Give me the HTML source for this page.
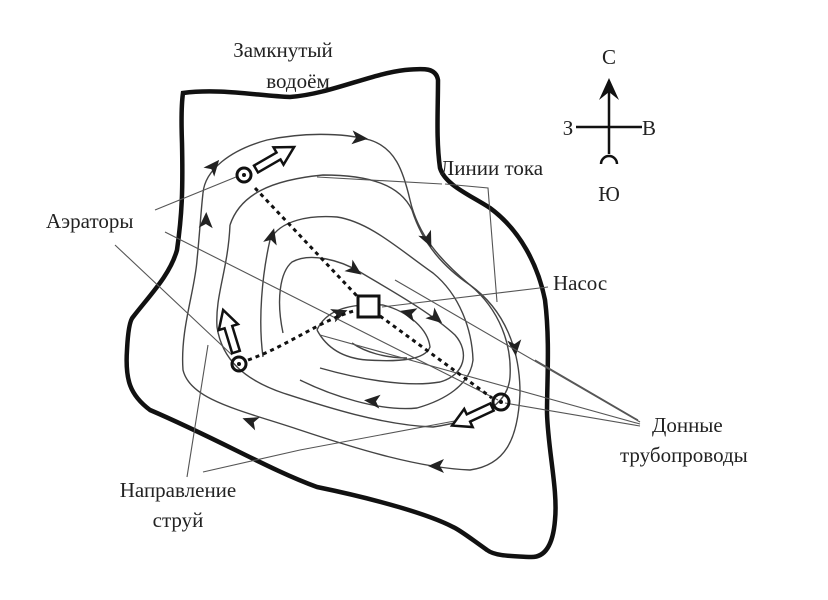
<!DOCTYPE html>
<html><head><meta charset="utf-8"><style>
html,body{margin:0;padding:0;background:#fff;}
svg{display:block;}
text{font-family:"Liberation Serif",serif;font-size:21px;fill:#222;}
</style></head><body>
<svg width="828" height="600" viewBox="0 0 828 600" xmlns="http://www.w3.org/2000/svg">
<path d="M183,93 C220,88 260,96 290,97 C330,94 370,74 405,70 C425,68 436,68 438,80 C438,110 436,140 440,168 C445,185 470,195 490,208 C520,230 538,265 545,300 C550,340 547,380 547,413 C548,450 558,490 555,520 C553,545 545,558 530,557 C510,556 495,556 487,550 C470,538 460,530 453,527 C430,515 380,500 317,487 C270,470 220,440 150,410 C130,395 125,380 127,350 C128,330 130,320 133,317 C150,295 170,275 177,250 C182,215 183,190 182,143 C181,115 182,100 183,93 Z" fill="none" stroke="#111" stroke-width="4.5"/>
<g fill="none" stroke="#444" stroke-width="1.4">
<path d="M203,193 C205,170 230,150 267,140 C300,133 340,132 370,140 C395,148 403,170 410,200 C418,235 440,260 470,285 C505,310 520,350 520,393 C518,440 505,465 470,470 C420,468 360,450 300,430 C240,410 190,400 183,370 C180,330 195,290 197,260 C200,230 201,210 203,193"/>
<path d="M230,225 C240,195 270,180 323,175 C370,175 400,185 412,210 C423,245 445,268 470,285 C500,310 512,345 510,377 C508,405 480,420 433,427 C380,425 320,405 283,393 C245,380 222,360 217,327 C215,295 228,270 230,225"/>
<path d="M263,357 C258,320 262,275 270,240 C280,220 310,215 337,217 C370,222 400,250 433,273 C460,295 472,330 473,360 C470,385 445,400 417,408 C380,412 330,395 300,380"/>
<path d="M283,333 C276,300 280,272 292,262 C310,252 340,260 360,272 C390,290 430,312 455,335 C470,352 465,375 440,382 C405,388 355,378 320,368"/>
<path d="M317,330 C325,312 345,303 383,305 C410,312 428,330 430,347 C425,360 400,362 367,360 C340,358 325,345 317,330"/>
<path d="M352,343 C365,352 385,358 407,358"/>
</g>
<g fill="#222">
<g transform="translate(214,166) rotate(-50)"><path d="M8,0 L-8,-7 L-4,0 L-8,7 Z"/></g>
<g transform="translate(360,138) rotate(5)"><path d="M8,0 L-8,-7 L-4,0 L-8,7 Z"/></g>
<g transform="translate(428,240) rotate(65)"><path d="M8,0 L-8,-7 L-4,0 L-8,7 Z"/></g>
<g transform="translate(206,220) rotate(-88)"><path d="M8,0 L-8,-7 L-4,0 L-8,7 Z"/></g>
<g transform="translate(272,236) rotate(-75)"><path d="M8,0 L-8,-7 L-4,0 L-8,7 Z"/></g>
<g transform="translate(355,270) rotate(35)"><path d="M8,0 L-8,-7 L-4,0 L-8,7 Z"/></g>
<g transform="translate(340,313) rotate(-20)"><path d="M8,0 L-8,-7 L-4,0 L-8,7 Z"/></g>
<g transform="translate(408,313) rotate(195)"><path d="M8,0 L-8,-7 L-4,0 L-8,7 Z"/></g>
<g transform="translate(436,318) rotate(40)"><path d="M8,0 L-8,-7 L-4,0 L-8,7 Z"/></g>
<g transform="translate(515,348) rotate(85)"><path d="M8,0 L-8,-7 L-4,0 L-8,7 Z"/></g>
<g transform="translate(372,401) rotate(185)"><path d="M8,0 L-8,-7 L-4,0 L-8,7 Z"/></g>
<g transform="translate(250,421) rotate(200)"><path d="M8,0 L-8,-7 L-4,0 L-8,7 Z"/></g>
<g transform="translate(436,466) rotate(180)"><path d="M8,0 L-8,-7 L-4,0 L-8,7 Z"/></g>
</g>
<g fill="none" stroke="#555" stroke-width="1.1">
<path d="M155,210 L236,177"/>
<path d="M165,232 L498,400"/>
<path d="M115,245 L232,355"/>
<path d="M442,184 L317,177"/>
<path d="M445,184 L488,188 L497,302"/>
<path d="M548,287 L382,307"/>
<path d="M640,422 L395,280"/>
<path d="M640,424 L320,335"/>
<path d="M640,426 L505,403"/>
<path d="M638,420 L535,360"/>
<path d="M187,477 L208,345"/>
<path d="M203,472 L300,450 L460,420"/>
</g>
<g fill="none" stroke="#111" stroke-width="3" stroke-dasharray="4,4">
<path d="M255,188 L357,296"/>
<path d="M380,316 L492,398"/>
<path d="M248,360 C290,345 320,320 357,310"/>
</g>
<rect x="358" y="296" width="21" height="21" fill="#fff" stroke="#111" stroke-width="3"/>
<g fill="none" stroke="#111" stroke-width="3">
<circle cx="244" cy="175" r="7"/>
<circle cx="239" cy="364" r="7"/>
<circle cx="501" cy="402" r="8"/>
</g>
<g fill="#111"><circle cx="244" cy="175" r="2"/><circle cx="239" cy="364" r="2"/><circle cx="501" cy="402" r="2"/></g>
<g fill="#fff" stroke="#111" stroke-width="2.5">
<path d="M0,-4 L26,-4 L26,-10 L44,0 L26,10 L26,4 L0,4 Z" transform="translate(256,169) rotate(-30)"/>
<path d="M0,-4 L26,-4 L26,-10 L44,0 L26,10 L26,4 L0,4 Z" transform="translate(236,352) rotate(-107)"/>
<path d="M0,-4 L26,-4 L26,-10 L44,0 L26,10 L26,4 L0,4 Z" transform="translate(492,407) rotate(155)"/>
</g>
<g stroke="#111" stroke-width="2.5" fill="none">
<line x1="609" y1="84" x2="609" y2="154"/>
<line x1="576" y1="127" x2="642" y2="127"/>
<path d="M601,164 A8,8 0 0 1 617,164"/>
</g>
<path d="M609,78 L619,100 L609,92 L599,100 Z" fill="#111"/>
<text x="283" y="57" text-anchor="middle">Замкнутый</text>
<text x="298" y="88" text-anchor="middle">водоём</text>
<text x="609" y="64" text-anchor="middle">С</text>
<text x="568" y="135" text-anchor="middle">З</text>
<text x="649" y="135" text-anchor="middle">В</text>
<text x="609" y="201" text-anchor="middle">Ю</text>
<text x="440" y="175">Линии тока</text>
<text x="46" y="228">Аэраторы</text>
<text x="553" y="290">Насос</text>
<text x="652" y="432">Донные</text>
<text x="620" y="462">трубопроводы</text>
<text x="178" y="497" text-anchor="middle">Направление</text>
<text x="178" y="527" text-anchor="middle">струй</text>
</svg>
</body></html>
